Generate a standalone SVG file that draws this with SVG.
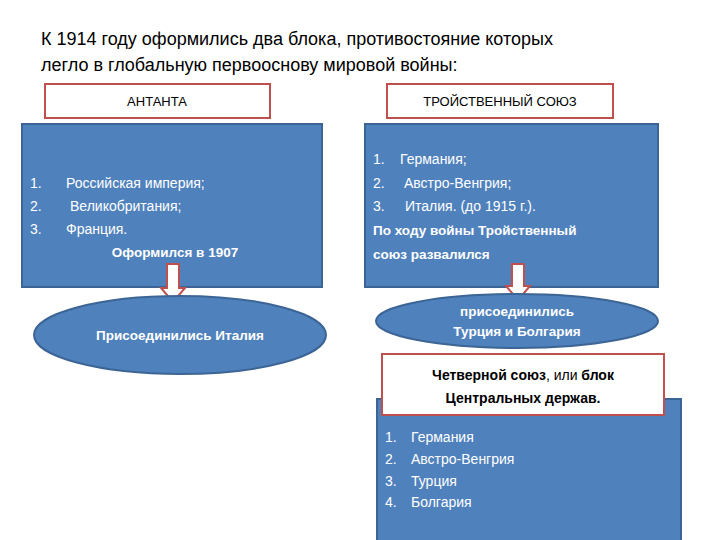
<svg xmlns="http://www.w3.org/2000/svg" width="720" height="540" viewBox="0 0 720 540">
<style>
text{font-family:"Liberation Sans","DejaVu Sans",sans-serif}
.lbl{fill:#fff;stroke:#c0504d;stroke-width:2}
.blue{fill:#4f81bd;stroke:#3c6595;stroke-width:2}
.w{fill:#fff;font-size:14px}
.wb{fill:#fff;font-size:13.5px;font-weight:bold}
.arr{fill:#fff;stroke:#c0504d;stroke-width:2}
</style>
<rect width="720" height="540" fill="#fff"/>
<text x="41" y="45" font-size="18" fill="#000">К 1914 году оформились два блока, противостояние которых</text>
<text x="41" y="71" font-size="18" fill="#000">легло в глобальную первооснову мировой войны:</text>
<g id="entente-label"><rect class="lbl" x="45" y="84" width="225" height="34"/><text x="157" y="106" font-size="13" text-anchor="middle">АНТАНТА</text></g>
<g id="entente"><rect class="blue" x="22" y="124" width="300" height="163"/>
<text class="w" x="30" y="188">1.</text><text class="w" x="66" y="188">Российская империя;</text>
<text class="w" x="30" y="211">2.</text><text class="w" x="70" y="211">Великобритания;</text>
<text class="w" x="30" y="234">3.</text><text class="w" x="66" y="234">Франция.</text>
<text class="wb" x="175" y="257" text-anchor="middle">Оформился в 1907</text></g>
<g id="triple-label"><rect class="lbl" x="387" y="84" width="226" height="34"/><text x="500" y="106" font-size="13" text-anchor="middle">ТРОЙСТВЕННЫЙ СОЮЗ</text></g>
<g id="triple"><rect class="blue" x="365" y="124" width="293" height="163"/>
<text class="w" x="373" y="164">1.</text><text class="w" x="400" y="164">Германия;</text>
<text class="w" x="373" y="188">2.</text><text class="w" x="404" y="188">Австро-Венгрия;</text>
<text class="w" x="373" y="211">3.</text><text class="w" x="405" y="211">Италия. (до 1915 г.).</text>
<text class="wb" x="373" y="235">По ходу войны Тройственный</text>
<text class="wb" x="373" y="259">союз развалился</text></g>
<g id="connectors">
<path class="arr" d="M167 264h12v24h6l-12 14l-12 -14h6z"/>
<path class="arr" d="M512 264h12v22h6l-12 14l-12 -14h6z"/>
</g>
<g id="italy"><ellipse class="blue" cx="180" cy="335" rx="146" ry="39"/><text class="wb" x="180" y="340" text-anchor="middle">Присоединились Италия</text></g>
<g id="turkey"><ellipse class="blue" cx="517" cy="321" rx="141" ry="27"/>
<text class="wb" x="517" y="316" text-anchor="middle">присоединились</text>
<text class="wb" x="517" y="336" text-anchor="middle">Турция и Болгария</text></g>
<g id="central"><rect class="blue" x="377" y="399" width="304" height="145"/>
<text class="w" x="385" y="442">1.</text><text class="w" x="411" y="442">Германия</text>
<text class="w" x="385" y="464">2.</text><text class="w" x="411" y="464">Австро-Венгрия</text>
<text class="w" x="385" y="486">3.</text><text class="w" x="411" y="486">Турция</text>
<text class="w" x="385" y="507">4.</text><text class="w" x="411" y="507">Болгария</text></g>
<g id="central-label"><rect class="lbl" x="382" y="354" width="282" height="61"/>
<text x="523" y="380" font-size="14" font-weight="bold" text-anchor="middle">Четверной союз<tspan font-weight="normal">, или </tspan>блок</text>
<text x="523" y="403" font-size="14" font-weight="bold" text-anchor="middle">Центральных держав.</text></g>
</svg>
